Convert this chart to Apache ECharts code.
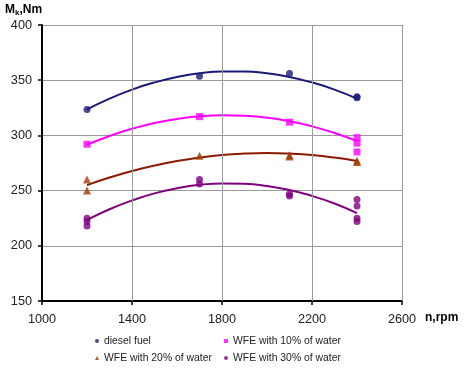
<!DOCTYPE html>
<html><head><meta charset="utf-8">
<script src="https://cdn.jsdelivr.net/npm/echarts@6/dist/echarts.min.js"></script>
<style>html,body{margin:0;padding:0;background:#fff}#c{width:474px;height:369px}</style>
</head><body><div id="c"></div>
<script>
// Measured points
const dieselX = [1200, 1700, 2100, 2400, 2400];
const dieselY = [323.5, 353.5, 356, 334, 335];
const wfe10X = [1200, 1700, 2100, 2400, 2400, 2400];
const wfe10Y = [292, 317, 312, 298, 293, 285];
const wfe20X = [1200, 1200, 1700, 2100, 2100, 2400, 2400];
const wfe20Y = [260, 250, 281.5, 282, 281, 276, 277];
const wfe30X = [1200, 1200, 1200, 1700, 1700, 2100, 2100, 2400, 2400, 2400, 2400];
const wfe30Y = [225, 222, 218, 260, 256, 247, 245, 242, 236, 225, 222];
// Trend curves (every 100 rpm)
const curveX = [1200, 1300, 1400, 1500, 1600, 1700, 1800, 1900, 2000, 2100, 2200, 2300, 2400];
const dieselCurve = [323.5, 333.3, 341.5, 348, 352.9, 356.2, 357.8, 357.8, 356.2, 352.9, 348, 341.5, 333.3];
const wfe10Curve = [291.5, 299.5, 306, 311.2, 314.9, 317.3, 318.3, 317.9, 316, 312.8, 308.2, 302.2, 294.9];
const wfe20Curve = [255, 261.8, 267.7, 272.7, 276.8, 279.9, 282.2, 283.5, 284, 283.5, 282.2, 279.9, 276.8];
const wfe30Curve = [223.4, 233.1, 241.1, 247.5, 252.1, 255.2, 256.5, 256.2, 254.2, 250.6, 245.2, 238.3, 229.6];
// Axis ticks
const xTicks = [1000, 1400, 1800, 2200, 2600];
const xGridLines = [1400, 1800, 2200, 2600];
const names = ['diesel fuel', 'WFE with 10% of water', 'WFE with 20% of water', 'WFE with 30% of water'];

const zip = (xs, ys) => xs.map((x, i) => [x, ys[i]]);
const colors = ['#1a1a7a', '#ff00ff', '#8b1a00', '#800080'];
const markerColors = ['#1a1a7a', '#ff00ff', '#a33a00', '#800080'];
const symbols = ['circle', 'rect', 'triangle', 'circle'];
const ptsX = [dieselX, wfe10X, wfe20X, wfe30X];
const ptsY = [dieselY, wfe10Y, wfe20Y, wfe30Y];
const curves = [dieselCurve, wfe10Curve, wfe20Curve, wfe30Curve];

const series = [];
series.push({
  type: 'line', name: 'grid', data: [], silent: true, z: 1,
  markLine: {
    silent: true, symbol: ['none', 'none'], label: {show: false},
    lineStyle: {color: '#9a9a9a', type: 'solid', width: 1},
    data: xGridLines.map(v => ({xAxis: v}))
  }
});
for (let i = 0; i < 4; i++) {
  series.push({
    type: 'line', name: 'trend' + i, data: zip(curveX, curves[i]), smooth: true,
    showSymbol: false, lineStyle: {color: colors[i], width: 2}, z: 3
  });
}
for (let i = 0; i < 4; i++) {
  series.push({
    type: 'scatter', name: names[i], data: zip(ptsX[i], ptsY[i]),
    symbol: symbols[i], symbolSize: i === 2 ? 8 : 7,
    itemStyle: {color: markerColors[i]}, z: 4
  });
}
const legPos = [[95, 336], [224, 336], [95, 353], [224, 353]];
const legends = names.map((n, i) => ({
  data: [{name: n, icon: symbols[i]}], left: legPos[i][0], top: legPos[i][1],
  itemWidth: 4, itemHeight: 4, itemGap: 4, padding: 0,
  selectedMode: false,
  textStyle: {fontFamily: 'Liberation Sans', fontSize: 10.4, color: '#222', padding: [0, 0, 0, 0]}
}));

const chart = echarts.init(document.getElementById('c'));
chart.setOption({
  animation: false,
  backgroundColor: '#fff',
  legend: legends,
  grid: {left: 42, right: 72, top: 25, bottom: 68},
  graphic: [
    {type: 'text', left: 5, top: 4, style: {
      rich: {b: {fontFamily: 'Liberation Sans', fontWeight: 'bold', fontSize: 12, fill: '#000'},
             s: {fontFamily: 'Liberation Sans', fontWeight: 'bold', fontSize: 8, fill: '#000', verticalAlign: 'bottom', padding: [6, 0, 0, 0]}},
      text: '{b|M}{s|k}{b|,Nm}'
    }},
    {type: 'text', left: 425, top: 312, style: {
      text: 'n,rpm', fontFamily: 'Liberation Sans', fontWeight: 'bold', fontSize: 12, fill: '#000'
    }}
  ],
  xAxis: {
    type: 'value', min: 1000, max: 2600,
    axisLine: {show: true, onZero: false, lineStyle: {color: '#000', width: 2}},
    axisTick: {show: true, length: 4, customValues: xTicks, lineStyle: {color: '#000', width: 1.5}},
    axisLabel: {customValues: xTicks, margin: 12, fontFamily: 'Liberation Sans', fontSize: 12.7, color: '#222',
      formatter: v => String(v)},
    splitLine: {show: false}
  },
  yAxis: {
    type: 'value', min: 150, max: 400, interval: 50,
    axisLine: {show: true, onZero: false, lineStyle: {color: '#000', width: 2}},
    axisTick: {show: true, length: 4, lineStyle: {color: '#000', width: 1.5}},
    axisLabel: {margin: 10, fontFamily: 'Liberation Sans', fontSize: 12.7, color: '#222'},
    splitLine: {show: true, lineStyle: {color: '#9a9a9a', width: 1}}
  },
  series: series
});
</script></body></html>
